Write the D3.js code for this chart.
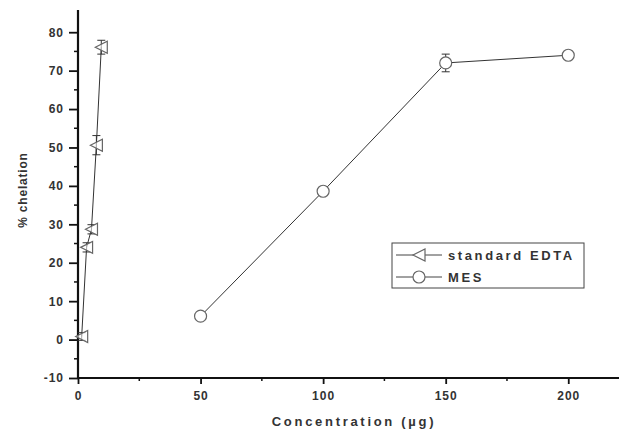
<!DOCTYPE html>
<html>
<head>
<meta charset="utf-8">
<script src="https://cdn.jsdelivr.net/npm/d3@7"></script>
<style>
  body { margin: 0; background: #fff; }
  text { font-family: "Liberation Sans", Arial, sans-serif; }
</style>
</head>
<body>
<div id="chart"></div>
<script>
// data
const edtaX = [1.5, 3.5, 5.5, 7.5, 9.5];
const edtaY = [0.8, 24, 28.7, 50.6, 76.1];
const edtaErr = [1, 1.2, 1.2, 2.5, 1.8];

const mesX = [50, 100, 150, 200];
const mesY = [6.1, 38.6, 72, 74];
const mesErr = [1, 1, 2.3, 1];

const xTicks = [0, 50, 100, 150, 200];
const yTicks = [-10, 0, 10, 20, 30, 40, 50, 60, 70, 80];

const width = 619;
const height = 432;
const marginLeft = 78;
const marginTop = 13;
const plotRight = 619;
const plotBottom = 378;

const svg = d3.select('#chart')
    .append('svg')
    .attr('width', width)
    .attr('height', height);

const xScale = d3.scaleLinear()
    .domain([0, 220.7])
    .range([marginLeft, plotRight]);

const yScale = d3.scaleLinear()
    .domain([-10, 85])
    .range([plotBottom, marginTop]);

// axes
const xAxis = d3.axisBottom(xScale)
    .tickValues(xTicks)
    .tickSize(6)
    .tickPadding(7)
    .tickFormat(d => d);

const gx = svg.append('g')
    .attr('transform', `translate(0,${plotBottom})`)
    .call(xAxis);

// minor x ticks
svg.append('g')
    .selectAll('line')
    .data([25, 75, 125, 175])
    .enter()
    .append('line')
    .attr('x1', d => xScale(d))
    .attr('x2', d => xScale(d))
    .attr('y1', plotBottom)
    .attr('y2', plotBottom + 3)
    .attr('stroke', '#111')
    .attr('stroke-width', 1.5);

const yAxis = d3.axisLeft(yScale)
    .tickValues(yTicks)
    .tickSize(9)
    .tickPadding(5)
    .tickFormat(d => d);

const gy = svg.append('g')
    .attr('transform', `translate(${marginLeft},0)`)
    .call(yAxis);

// minor y ticks
svg.append('g')
    .selectAll('line')
    .data(d3.range(-5, 85, 10))
    .enter()
    .append('line')
    .attr('x1', marginLeft - 4)
    .attr('x2', marginLeft)
    .attr('y1', d => yScale(d))
    .attr('y2', d => yScale(d))
    .attr('stroke', '#111')
    .attr('stroke-width', 1.5);

[gx, gy].forEach(g => {
    g.select('.domain').attr('stroke', '#111').attr('stroke-width', 2.2);
    g.selectAll('.tick line').attr('stroke', '#111').attr('stroke-width', 1.8);
    g.selectAll('.tick text')
        .attr('fill', '#333')
        .style('font-size', '12px')
        .style('font-weight', 'bold')
        .style('letter-spacing', '1px');
});
gx.select('.domain').attr('d', `M${marginLeft},0H${plotRight}`);
gy.select('.domain').attr('d', `M0,${plotBottom}V${marginTop - 3}`);

// axis titles
svg.append('text')
    .attr('x', 354)
    .attr('y', 426)
    .attr('text-anchor', 'middle')
    .attr('fill', '#333')
    .style('font-size', '13px')
    .style('font-weight', 'bold')
    .style('letter-spacing', '2.7px')
    .text('Concentration (µg)');

svg.append('text')
    .attr('transform', 'translate(27,190) rotate(-90)')
    .attr('text-anchor', 'middle')
    .attr('fill', '#333')
    .style('font-size', '12px')
    .style('font-weight', 'bold')
    .style('letter-spacing', '0.8px')
    .text('% chelation');

const line = d3.line()
    .x(d => xScale(d[0]))
    .y(d => yScale(d[1]));

const triPath = 'M-6,0L6,-6L6,6Z';

function drawSeries(xs, ys, errs, marker) {
    const pts = xs.map((x, i) => [x, ys[i], errs[i]]);

    svg.append('path')
        .datum(pts)
        .attr('d', line)
        .attr('fill', 'none')
        .attr('stroke', '#333')
        .attr('stroke-width', 1);

    const g = svg.append('g');
    const err = g.selectAll('g.err')
        .data(pts)
        .enter()
        .append('g');

    err.append('line')
        .attr('x1', d => xScale(d[0]))
        .attr('x2', d => xScale(d[0]))
        .attr('y1', d => yScale(d[1] - d[2]))
        .attr('y2', d => yScale(d[1] + d[2]))
        .attr('stroke', '#333');
    [-1, 1].forEach(s => {
        err.append('line')
            .attr('x1', d => xScale(d[0]) - 4)
            .attr('x2', d => xScale(d[0]) + 4)
            .attr('y1', d => yScale(d[1] + s * d[2]))
            .attr('y2', d => yScale(d[1] + s * d[2]))
            .attr('stroke', '#333');
    });

    if (marker === 'circle') {
        g.selectAll('circle')
            .data(pts)
            .enter()
            .append('circle')
            .attr('cx', d => xScale(d[0]))
            .attr('cy', d => yScale(d[1]))
            .attr('r', 6)
            .attr('fill', '#fff')
            .attr('stroke', '#666')
            .attr('stroke-width', 1.2);
    } else {
        g.selectAll('path.tri')
            .data(pts)
            .enter()
            .append('path')
            .attr('d', triPath)
            .attr('transform', d => `translate(${xScale(d[0])},${yScale(d[1])})`)
            .attr('fill', '#fff')
            .attr('fill-opacity', 0.6)
            .attr('stroke', '#666')
            .attr('stroke-width', 1.2);
    }
}

drawSeries(mesX, mesY, mesErr, 'circle');
drawSeries(edtaX, edtaY, edtaErr, 'triangle');

// legend
const legend = svg.append('g').attr('transform', 'translate(392,243)');
legend.append('rect')
    .attr('width', 192)
    .attr('height', 45)
    .attr('fill', '#fff')
    .attr('stroke', '#444')
    .attr('stroke-width', 1);

const legendItems = [
    { name: 'standard EDTA', marker: 'triangle' },
    { name: 'MES', marker: 'circle' }
];

legendItems.forEach((item, i) => {
    const y = 12 + i * 22;
    legend.append('line')
        .attr('x1', 4).attr('x2', 50)
        .attr('y1', y).attr('y2', y)
        .attr('stroke', '#444');
    if (item.marker === 'circle') {
        legend.append('circle')
            .attr('cx', 27).attr('cy', y).attr('r', 6)
            .attr('fill', '#fff').attr('stroke', '#666').attr('stroke-width', 1.2);
    } else {
        legend.append('path')
            .attr('d', triPath)
            .attr('transform', `translate(27,${y})`)
            .attr('fill', '#fff').attr('stroke', '#666').attr('stroke-width', 1.2);
    }
    legend.append('text')
        .attr('x', 56)
        .attr('y', y + 5)
        .attr('fill', '#333')
        .style('font-size', '13px')
        .style('font-weight', 'bold')
        .style('letter-spacing', '2.6px')
        .text(item.name);
});
</script>
</body>
</html>
